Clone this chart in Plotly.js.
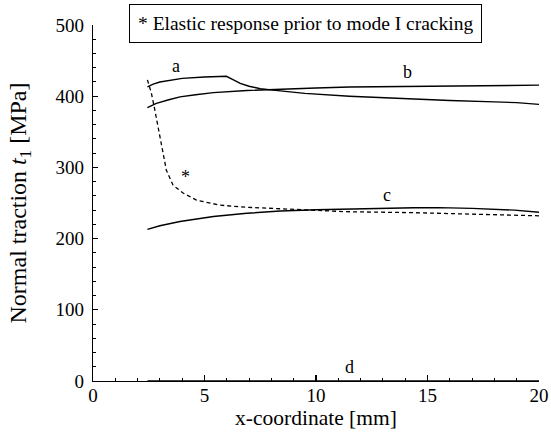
<!DOCTYPE html>
<html>
<head>
<meta charset="utf-8">
<script src="https://cdn.plot.ly/plotly-3.0.1.min.js"></script>
<style>html,body{margin:0;padding:0;background:#fff;}#chart{width:551px;height:443px;}</style>
</head>
<body>
<div id="chart"></div>
<script>
// Curve a
const xA = [2.44, 2.7, 3.0, 3.5, 4.0, 5.0, 5.98, 6.3, 6.6, 7.0, 7.5, 8.4, 9.5, 11.5, 14, 16, 18, 19, 20];
const yA = [413, 417, 420, 423, 425, 427, 428, 423, 418, 414, 410.5, 407.5, 404, 400, 396.5, 394, 392, 391, 388.5];
// Curve b
const xB = [2.44, 2.84, 3.4, 3.9, 4.6, 5.4, 6.9, 8.4, 10, 11.5, 14, 16, 18, 20];
const yB = [384, 390, 395, 399, 402, 405, 408, 410, 411.5, 413, 414, 414.7, 415, 415.5];
// Curve c
const xC = [2.44, 3.0, 3.9, 5.4, 6.9, 8.4, 10, 11.4, 13, 14.4, 15.5, 17, 18.9, 20];
const yC = [213, 218, 224, 231, 235.5, 238.8, 240.5, 241.6, 242.8, 243.4, 243.5, 242.5, 240, 237];
// Curve * (elastic response prior to mode I cracking)
const xS = [2.44, 2.62, 2.77, 2.92, 3.07, 3.29, 3.59, 4.04, 4.64, 5.69, 6.88, 8.38, 11.37, 14.36, 17.35, 20];
const yS = [423, 404, 381, 357, 329, 296, 275, 264, 254, 247, 244, 241.6, 237.8, 236.4, 234.6, 232];
// Curve d
const xD = [2.44, 20];
const yD = [0, 0];

// Curve labels
const labelText = ['a', 'b', 'c', '*', 'd'];
const labelX = [3.71, 14.12, 13.18, 4.15, 11.52];
const labelY = [442, 434, 261, 286, 20];

const xTicks = [0, 5, 10, 15, 20];
const yTicks = [0, 100, 200, 300, 400, 500];

const FONT = 'Liberation Serif';
const solid = {color: '#000', width: 1.4};

const traces = [
  {x: xA, y: yA, mode: 'lines', line: solid},
  {x: xB, y: yB, mode: 'lines', line: solid},
  {x: xC, y: yC, mode: 'lines', line: solid},
  {x: xS, y: yS, mode: 'lines', line: {color: '#000', width: 1.3, dash: '4px,3px'}},
  {x: xD, y: yD, mode: 'lines', line: solid}
];

const annotations = labelText.map((t, i) => ({
  x: labelX[i], y: labelY[i], xref: 'x', yref: 'y', text: t, showarrow: false,
  font: {family: FONT, size: 18, color: '#000'}
}));
annotations.push({
  x: 0.477, y: 1.0048, xref: 'paper', yref: 'paper', xanchor: 'center', yanchor: 'middle',
  text: '* Elastic response prior to mode I cracking', showarrow: false,
  font: {family: FONT, size: 19.5, color: '#000'},
  bordercolor: '#000', borderwidth: 1, borderpad: 8, bgcolor: '#fff'
});

const layout = {
  width: 551, height: 443,
  margin: {l: 93, r: 12, t: 25, b: 62},
  paper_bgcolor: '#fff', plot_bgcolor: '#fff',
  showlegend: false,
  font: {family: FONT, size: 18, color: '#000'},
  xaxis: {
    range: [0, 20], tickvals: xTicks, ticktext: xTicks.map(String),
    ticks: 'inside', ticklen: 6, tickwidth: 1.2, tickcolor: '#000',
    showline: true, linecolor: '#000', linewidth: 1.3, mirror: false,
    showgrid: false, zeroline: false, ticklabelstandoff: -3,
    minor: {dtick: 1, ticks: 'inside', ticklen: 3.5, tickwidth: 1, tickcolor: '#000'},
    tickfont: {family: FONT, size: 19},
    title: {text: 'x-coordinate [mm]', font: {family: FONT, size: 21.5}, standoff: 0}
  },
  yaxis: {
    range: [0, 500], tickvals: yTicks, ticktext: yTicks.map(String),
    ticks: 'inside', ticklen: 5, tickwidth: 1.2, tickcolor: '#000',
    showline: true, linecolor: '#000', linewidth: 1.3, mirror: false,
    showgrid: false, zeroline: false, ticklabelstandoff: 4,
    minor: {dtick: 20, ticks: 'inside', ticklen: 2.5, tickwidth: 1, tickcolor: '#000'},
    tickfont: {family: FONT, size: 19},
    title: {text: 'Normal traction <i>t</i><sub>1</sub> [MPa]', font: {family: FONT, size: 24}, standoff: 22}
  },
  annotations: annotations
};

Plotly.newPlot('chart', traces, layout, {displayModeBar: false, staticPlot: true});
</script>
</body>
</html>
